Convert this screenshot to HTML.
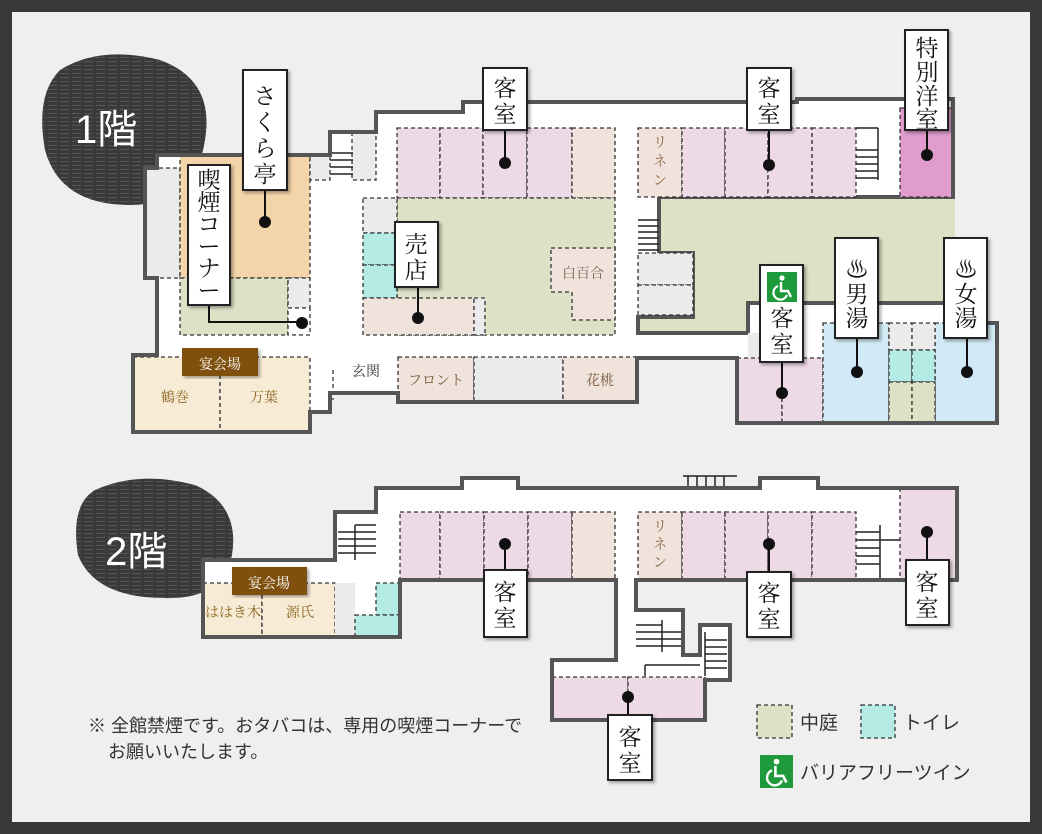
<!DOCTYPE html>
<html><head><meta charset="utf-8"><style>
html,body{margin:0;padding:0;}
body{width:1042px;height:834px;overflow:hidden;background:#383838;}
svg{display:block;}
text{font-family:"Liberation Serif","Noto Serif CJK SC","Noto Sans CJK JP",serif;}
.d{stroke:#333;stroke-width:1.3;stroke-dasharray:4 3;}
.w{fill:none;stroke:#555;stroke-width:4;stroke-linejoin:miter;}
.lb{fill:#fff;stroke:#222;stroke-width:2;}
.lt{font-size:23px;fill:#111;text-anchor:middle;}
.st{stroke:#222;stroke-width:1.5;}
.sm{font-size:14px;text-anchor:middle;}
</style></head><body>
<svg width="1042" height="834" viewBox="0 0 1042 834" xmlns="http://www.w3.org/2000/svg">
<defs>
<filter id="sh"><feDropShadow dx="2" dy="2" stdDeviation="1.5" flood-color="#000" flood-opacity="0.35"/></filter>
<pattern id="str" width="12" height="4" patternUnits="userSpaceOnUse"><rect width="12" height="4" fill="#3a3a3a"/><rect y="1" width="9" height="1" fill="#555"/></pattern>
<g id="wc"><rect width="30" height="30" fill="#1e9a3a"/><circle cx="15" cy="6" r="2.6" fill="#fff"/><path d="M14 10 L14 19 L21 19 L24 25" fill="none" stroke="#fff" stroke-width="2.4"/><path d="M11 14 A7 7 0 1 0 20 23" fill="none" stroke="#fff" stroke-width="2.2"/></g>
</defs>
<rect x="12" y="12" width="1018" height="810" fill="#efefef"/>

<path d="M60 70 Q100 45 160 60 Q215 80 205 140 Q195 205 130 205 Q60 205 45 150 Q35 95 60 70Z" fill="url(#str)"/>
<text x="75" y="143" font-size="40" fill="#fff" style="font-family:'Liberation Sans','Noto Sans CJK JP',sans-serif">1階</text>
<path d="M95 490 Q140 470 195 485 Q240 505 232 555 Q222 600 165 598 Q95 598 78 555 Q70 505 95 490Z" fill="url(#str)"/>
<text x="105" y="565" font-size="40" fill="#fff" style="font-family:'Liberation Sans','Noto Sans CJK JP',sans-serif">2階</text>

<!-- FLOOR 1 -->
<polygon points="157,155 330,155 330,132 376,132 376,112 463,112 463,102 797,102 797,99 953,99 953,323 997,323 997,423 737,423 737,358 637,358 637,402 398,402 398,393 330,393 330,412 310,412 310,432 133,432 133,355 157,355 157,278 145,278 145,168 157,168" fill="#fff"/>
<polygon points="659,197 955,197 955,303 748,303 748,333 638,333 638,317 693,317 693,253 659,253" fill="#dde1c5"/>
<polyline class="w" points="955,197 659,197 659,253 693,253 693,317 638,317 638,333 748,333 748,303 955,303"/>
<rect class="d" x="145" y="168" width="35" height="110" fill="#ebebeb"/>
<rect class="d" x="180" y="155" width="130" height="123" fill="#f4d5a9"/>
<rect class="d" x="180" y="278" width="108" height="57" fill="#dde1c5"/>
<rect class="d" x="288" y="278" width="22" height="30" fill="#ebebeb"/>
<rect class="d" x="288" y="308" width="22" height="27" fill="#fff"/>
<rect class="d" x="310" y="155" width="20" height="25" fill="#ebebeb"/>
<rect class="d" x="352" y="132" width="24" height="48" fill="#ebebeb"/>
<g class="st"><line x1="330" y1="153" x2="353" y2="153"/><line x1="330" y1="160" x2="353" y2="160"/><line x1="330" y1="167" x2="353" y2="167"/><line x1="330" y1="174" x2="353" y2="174"/></g>
<g class="d" fill="#eed9e7">
<rect x="397" y="128" width="43" height="70"/><rect x="440" y="128" width="43" height="70"/><rect x="483" y="128" width="44" height="70"/><rect x="527" y="128" width="45" height="70"/>
</g>
<rect class="d" x="572" y="128" width="43" height="70" fill="#efe3dc"/>
<rect class="d" x="397" y="198" width="218" height="137" fill="#dde1c5"/>
<polygon class="d" points="551,248 615,248 615,320 572,320 572,292 551,292" fill="#efe3dc"/>
<text x="583" y="278" class="sm" fill="#7a6a5a">白百合</text>
<rect class="d" x="363" y="198" width="34" height="35" fill="#ebebeb"/>
<rect class="d" x="363" y="233" width="34" height="32" fill="#b4ebe5"/>
<rect class="d" x="363" y="265" width="34" height="33" fill="#b4ebe5"/>
<rect class="d" x="363" y="298" width="111" height="37" fill="#efe3dc"/>
<rect class="d" x="474" y="298" width="11" height="37" fill="#ebebeb"/>
<rect class="d" x="133" y="357" width="87" height="75" fill="#f8ebd6"/>
<rect class="d" x="220" y="357" width="90" height="75" fill="#f8ebd6"/>
<text x="175" y="402" class="sm" fill="#8a6520" font-size="15">鶴巻</text>
<text x="264" y="402" class="sm" fill="#8a6520" font-size="15">万葉</text>
<rect x="182" y="348" width="76" height="28" fill="#7e4f0e" filter="url(#sh)"/>
<text x="220" y="369" class="sm" fill="#fff" font-size="18">宴会場</text>
<text x="366" y="376" class="sm" fill="#333" font-size="16">玄関</text>
<line class="d" x1="333" y1="370" x2="333" y2="400"/>
<rect class="d" x="398" y="357" width="76" height="45" fill="#efe3dc"/>
<rect class="d" x="474" y="357" width="89" height="45" fill="#ebebeb"/>
<rect class="d" x="563" y="357" width="74" height="45" fill="#efe3dc"/>
<text x="436" y="385" class="sm" fill="#7a5a3a">フロント</text>
<text x="600" y="385" class="sm" fill="#7a5a3a">花桃</text>
<rect class="d" x="638" y="128" width="44" height="69" fill="#efe3dc"/>
<text x="660" y="147" class="sm" fill="#8a6540">リ</text><text x="660" y="166" class="sm" fill="#8a6540">ネ</text><text x="660" y="185" class="sm" fill="#8a6540">ン</text>
<g class="d" fill="#eed9e7">
<rect x="682" y="128" width="43" height="69"/><rect x="725" y="128" width="43" height="69"/><rect x="768" y="128" width="44" height="69"/><rect x="812" y="128" width="44" height="69"/>
</g>
<g class="st"><line x1="856" y1="150" x2="878" y2="150"/><line x1="856" y1="157" x2="878" y2="157"/><line x1="856" y1="164" x2="878" y2="164"/><line x1="856" y1="171" x2="878" y2="171"/><line x1="856" y1="178" x2="878" y2="178"/><line x1="878" y1="128" x2="878" y2="180"/><line x1="856" y1="128" x2="878" y2="128"/></g>
<rect class="d" x="900" y="108" width="53" height="89" fill="#e09ccc"/>
<g class="st"><line x1="638" y1="220" x2="659" y2="220"/><line x1="638" y1="226" x2="659" y2="226"/><line x1="638" y1="232" x2="659" y2="232"/><line x1="638" y1="238" x2="659" y2="238"/><line x1="638" y1="244" x2="659" y2="244"/><line x1="638" y1="250" x2="659" y2="250"/></g>
<rect class="d" x="638" y="253" width="55" height="32" fill="#ebebeb"/>
<rect class="d" x="638" y="285" width="55" height="30" fill="#ebebeb"/>
<rect x="748" y="333" width="12" height="25" fill="#ebebeb"/>
<rect class="d" x="737" y="358" width="45" height="65" fill="#eed9e7"/>
<rect class="d" x="782" y="358" width="41" height="65" fill="#eed9e7"/>
<rect class="d" x="823" y="323" width="66" height="100" fill="#d2eaf5"/>
<rect class="d" x="935" y="323" width="62" height="100" fill="#d2eaf5"/>
<g class="d"><rect x="889" y="323" width="23" height="27" fill="#ebebeb"/><rect x="912" y="323" width="23" height="27" fill="#ebebeb"/>
<rect x="889" y="350" width="23" height="32" fill="#b4ebe5"/><rect x="912" y="350" width="23" height="32" fill="#b4ebe5"/>
<rect x="889" y="382" width="23" height="41" fill="#dde1c5"/><rect x="912" y="382" width="23" height="41" fill="#dde1c5"/></g>
<polyline class="w" points="955,197 953,197 953,99 797,99 797,102 463,102 463,112 376,112 376,132 330,132 330,155 157,155 157,168 145,168 145,278 157,278 157,355 133,355 133,432 310,432 310,412 330,412 330,393 398,393 398,402 637,402 637,358 737,358 737,423 997,423 997,323 955,323"/>

<!-- FLOOR 2 -->
<polygon points="203,560 335,560 335,512 376,512 376,488 462,488 462,478 518,478 518,488 760,488 760,478 818,478 818,488 957,488 957,580 636,580 636,610 683,610 683,655 700,655 700,625 730,625 730,680 705,680 705,720 552,720 552,660 616,660 616,580 400,580 400,637 203,637" fill="#fff"/>
<g class="st"><line x1="338" y1="532" x2="376" y2="532"/><line x1="338" y1="539" x2="376" y2="539"/><line x1="338" y1="546" x2="376" y2="546"/><line x1="338" y1="553" x2="376" y2="553"/><line x1="355" y1="525" x2="355" y2="560"/><line x1="355" y1="525" x2="376" y2="525"/></g>
<rect class="d" x="203" y="583" width="59" height="54" fill="#f8ebd6"/>
<rect class="d" x="262" y="583" width="73" height="54" fill="#f8ebd6"/>
<rect x="335" y="583" width="20" height="54" fill="#ebebeb"/>
<rect class="d" x="376" y="583" width="24" height="32" fill="#b4ebe5"/>
<rect class="d" x="355" y="615" width="45" height="22" fill="#b4ebe5"/>
<text x="233" y="617" class="sm" fill="#8a6520">ははき木</text>
<text x="300" y="617" class="sm" fill="#8a6520">源氏</text>
<rect x="232" y="567" width="75" height="28" fill="#7e4f0e" filter="url(#sh)"/>
<text x="269" y="588" class="sm" fill="#fff" font-size="18">宴会場</text>
<g class="d" fill="#eed9e7">
<rect x="400" y="512" width="40" height="68"/><rect x="440" y="512" width="44" height="68"/><rect x="484" y="512" width="44" height="68"/><rect x="528" y="512" width="44" height="68"/>
</g>
<rect class="d" x="572" y="512" width="43" height="68" fill="#efe3dc"/>
<rect class="d" x="638" y="512" width="44" height="68" fill="#efe3dc"/>
<text x="660" y="531" class="sm" fill="#8a6540">リ</text><text x="660" y="549" class="sm" fill="#8a6540">ネ</text><text x="660" y="567" class="sm" fill="#8a6540">ン</text>
<g class="d" fill="#eed9e7">
<rect x="682" y="512" width="43" height="68"/><rect x="725" y="512" width="43" height="68"/><rect x="768" y="512" width="44" height="68"/><rect x="812" y="512" width="44" height="68"/>
</g>
<rect class="d" x="900" y="488" width="57" height="92" fill="#eed9e7"/>
<g class="st"><line x1="856" y1="532" x2="880" y2="532"/><line x1="856" y1="540" x2="880" y2="540"/><line x1="856" y1="548" x2="880" y2="548"/><line x1="856" y1="556" x2="880" y2="556"/><line x1="856" y1="564" x2="880" y2="564"/><line x1="880" y1="540" x2="900" y2="540"/><line x1="880" y1="525" x2="880" y2="580"/></g>
<g class="st"><line x1="683" y1="476" x2="737" y2="476"/><line x1="688" y1="476" x2="688" y2="488"/><line x1="697" y1="476" x2="697" y2="488"/><line x1="706" y1="476" x2="706" y2="488"/><line x1="715" y1="476" x2="715" y2="488"/><line x1="724" y1="476" x2="724" y2="488"/></g>
<g class="st"><line x1="636" y1="625" x2="662" y2="625"/><line x1="636" y1="632" x2="683" y2="632"/><line x1="636" y1="639" x2="683" y2="639"/><line x1="636" y1="646" x2="683" y2="646"/><line x1="662" y1="620" x2="662" y2="652"/><line x1="645" y1="665" x2="700" y2="665"/><line x1="645" y1="665" x2="645" y2="676"/>
<line x1="705" y1="640" x2="727" y2="640"/><line x1="705" y1="647" x2="727" y2="647"/><line x1="705" y1="654" x2="727" y2="654"/><line x1="705" y1="661" x2="727" y2="661"/><line x1="705" y1="668" x2="727" y2="668"/><line x1="705" y1="632" x2="705" y2="676"/></g>
<rect class="d" x="552" y="677" width="76" height="43" fill="#eed9e7"/>
<rect class="d" x="628" y="677" width="77" height="43" fill="#eed9e7"/>
<polygon class="w" points="203,560 335,560 335,512 376,512 376,488 462,488 462,478 518,478 518,488 760,488 760,478 818,478 818,488 957,488 957,580 636,580 636,610 683,610 683,655 700,655 700,625 730,625 730,680 705,680 705,720 552,720 552,660 616,660 616,580 400,580 400,637 203,637"/>

<!-- connectors -->
<g fill="#111" stroke="#111" stroke-width="2">
<line x1="265" y1="190" x2="265" y2="222"/><circle cx="265" cy="222" r="5"/>
<polyline fill="none" points="209,305 209,322 302,322"/><circle cx="302" cy="323" r="5"/>
<line x1="418" y1="287" x2="418" y2="318"/><circle cx="418" cy="318" r="5"/>
<line x1="505" y1="130" x2="505" y2="163"/><circle cx="505" cy="163" r="5"/>
<line x1="769" y1="130" x2="769" y2="165"/><circle cx="769" cy="165" r="5"/>
<line x1="927" y1="130" x2="927" y2="155"/><circle cx="927" cy="155" r="5"/>
<line x1="857" y1="338" x2="857" y2="372"/><circle cx="857" cy="372" r="5"/>
<line x1="967" y1="338" x2="967" y2="372"/><circle cx="967" cy="372" r="5"/>
<line x1="782" y1="362" x2="782" y2="393"/><circle cx="782" cy="393" r="5"/>
<line x1="505" y1="544" x2="505" y2="570"/><circle cx="505" cy="544" r="5"/>
<line x1="769" y1="544" x2="769" y2="572"/><circle cx="769" cy="544" r="5"/>
<line x1="927" y1="532" x2="927" y2="560"/><circle cx="927" cy="532" r="5"/>
<line x1="628" y1="697" x2="628" y2="715"/><circle cx="628" cy="697" r="5"/>
</g>
<g filter="url(#sh)">
<rect class="lb" x="243" y="70" width="44" height="120"/>
<rect class="lb" x="188" y="165" width="42" height="140"/>
<rect class="lb" x="395" y="222" width="43" height="65"/>
<rect class="lb" x="483" y="68" width="44" height="62"/>
<rect class="lb" x="747" y="68" width="44" height="62"/>
<rect class="lb" x="905" y="30" width="43" height="100"/>
<rect class="lb" x="835" y="238" width="43" height="100"/>
<rect class="lb" x="944" y="238" width="43" height="100"/>
<rect class="lb" x="760" y="265" width="43" height="97"/>
<rect class="lb" x="484" y="570" width="43" height="67"/>
<rect class="lb" x="747" y="572" width="44" height="65"/>
<rect class="lb" x="906" y="560" width="43" height="65"/>
<rect class="lb" x="608" y="715" width="44" height="65"/>
</g>
<g class="lt">
<text x="265" y="104">さ</text><text x="265" y="130">く</text><text x="265" y="156">ら</text><text x="265" y="182">亭</text>
<text x="416" y="252">売</text><text x="416" y="278">店</text>
<text x="505" y="96">客</text><text x="505" y="122">室</text>
<text x="769" y="96">客</text><text x="769" y="122">室</text>
<text x="927" y="56">特</text><text x="927" y="80">別</text><text x="927" y="104">洋</text><text x="927" y="127">室</text>
<text x="782" y="326">客</text><text x="782" y="352">室</text>
<text x="505" y="600">客</text><text x="505" y="626">室</text>
<text x="769" y="601">客</text><text x="769" y="627">室</text>
<text x="927" y="590">客</text><text x="927" y="616">室</text>
<text x="630" y="745">客</text><text x="630" y="771">室</text>
</g>
<g class="lt" font-size="20">
<text x="209" y="188">喫</text><text x="209" y="210">煙</text><text x="209" y="232">コ</text><text x="209" y="254">ー</text><text x="209" y="276">ナ</text><text x="209" y="298">ー</text>
</g>
<text x="857" y="277" class="lt" font-size="24" fill="#1e3a8c">♨</text>
<text x="857" y="302" class="lt" fill="#1e3a8c" font-size="20">男</text><text x="857" y="326" class="lt" fill="#1e3a8c" font-size="20">湯</text>
<text x="966" y="277" class="lt" font-size="24" fill="#9a1a1a">♨</text>
<text x="966" y="302" class="lt" fill="#9a1a1a" font-size="20">女</text><text x="966" y="326" class="lt" fill="#9a1a1a" font-size="20">湯</text>
<use href="#wc" x="767" y="272"/>

<!-- legend -->
<rect x="757" y="705" width="35" height="33" fill="#dde1c5" class="d"/>
<text x="800" y="729" font-size="19" fill="#333" style="font-family:'Liberation Sans','Noto Sans CJK JP',sans-serif">中庭</text>
<rect x="861" y="705" width="34" height="33" fill="#b4ebe5" class="d"/>
<text x="903" y="729" font-size="19" fill="#333" style="font-family:'Liberation Sans','Noto Sans CJK JP',sans-serif">トイレ</text>
<use href="#wc" transform="translate(760,755) scale(1.1)"/>
<text x="800" y="779" font-size="19" fill="#333" style="font-family:'Liberation Sans','Noto Sans CJK JP',sans-serif">バリアフリーツイン</text>
<text x="88" y="732" font-size="18" fill="#333" style="font-family:'Liberation Sans','Noto Sans CJK JP',sans-serif">※ 全館禁煙です。おタバコは、専用の喫煙コーナーで</text>
<text x="108" y="758" font-size="18" fill="#333" style="font-family:'Liberation Sans','Noto Sans CJK JP',sans-serif">お願いいたします。</text>
</svg>
</body></html>
